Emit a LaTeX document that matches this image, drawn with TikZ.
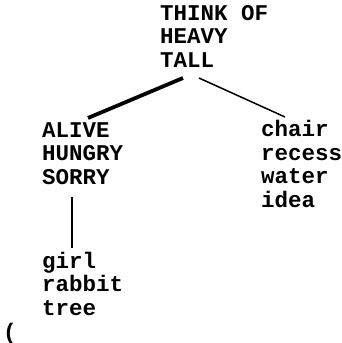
\documentclass[tikz,border=0pt]{standalone}
\usepackage{fontspec}
\setmonofont{Liberation Mono}
\usetikzlibrary{positioning}

\tikzset{
  words/.style={align=left, anchor=base west, inner sep=0pt,
    font=\ttfamily\bfseries\fontsize{22.5}{23.5}\selectfont},
  link/.style={line width=1.5pt},
  strong link/.style={line width=3.8pt}
}

\begin{document}
\begin{tikzpicture}[x=1pt,y=-1pt]
\useasboundingbox (0,0) rectangle (342,343);
% word lists, placed by the baseline of their last line
\node[words] (think) at (160,67) {THINK OF\\HEAVY\\TALL};
\node[words] (alive) at (42,184) {ALIVE\\HUNGRY\\SORRY};
\node[words] (chair) at (261,207) {chair\\recess\\water\\idea};
\node[words] (girl) at (42,315) {girl\\rabbit\\tree};
\node[words] (paren) at (3,339) {(};
% links between the word lists
\draw[strong link] ([xshift=23pt,yshift=-11pt]think.base west) -- ([xshift=46pt,yshift=66pt]alive.base west);
\draw[link] ([xshift=39pt,yshift=-11pt]think.base west) -- ([xshift=24pt,yshift=90pt]chair.base west);
\draw[link] ([xshift=30pt,yshift=-13pt]alive.base west) -- ([xshift=30pt,yshift=67pt]girl.base west);
\end{tikzpicture}
\end{document}
